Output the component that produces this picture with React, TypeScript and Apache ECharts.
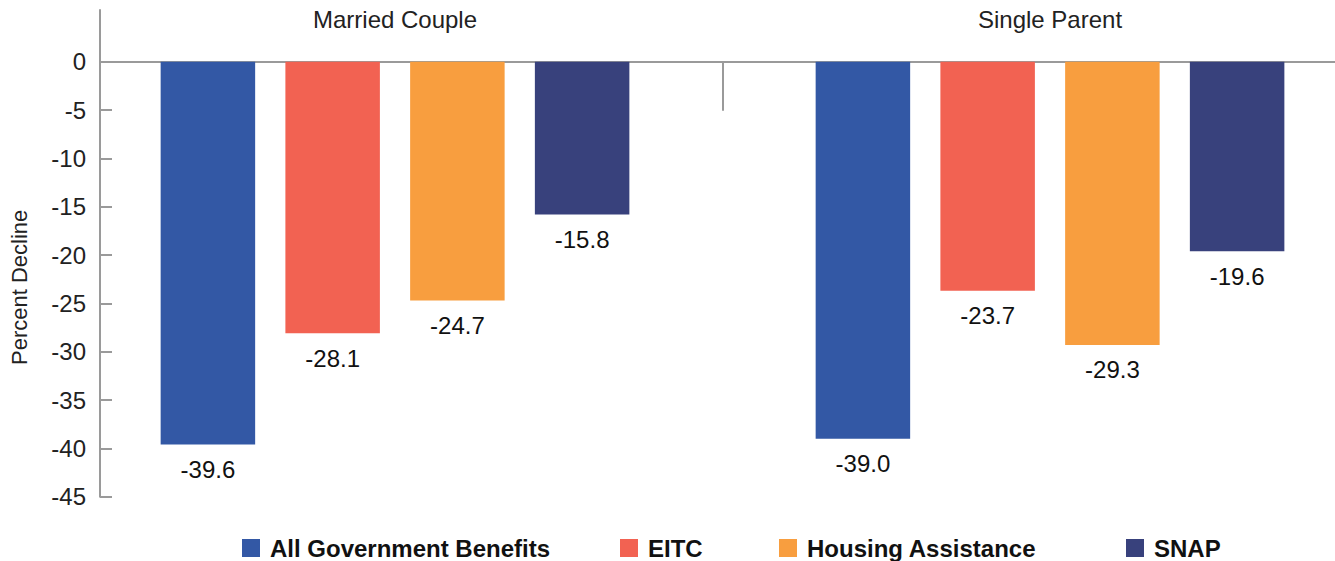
import React, { useEffect, useRef } from 'react';
import * as echarts from 'echarts';

const categories = ['Married Couple', 'Single Parent'];
const seriesNames = ['All Government Benefits', 'EITC', 'Housing Assistance', 'SNAP'];
const allGovernmentBenefits = [-39.6, -39.0];
const eitc = [-28.1, -23.7];
const housingAssistance = [-24.7, -29.3];
const snap = [-15.8, -19.6];
const yTickValues = [-45, -40, -35, -30, -25, -20, -15, -10, -5];
const yLabelValues = [-45, -40, -35, -30, -25, -20, -15, -10, -5, 0];
const yMin = -45;
const yMax = 5.35;
const yName = 'Percent Decline';

// x axis in "category index" units: groups centred on 0 and 1, divider at 0.5
const categoryIndexes = categories.map((_, i) => i);
const dividerValues = [0.5];
const xMin = -0.4504;
const xMax = 1.4351;

const seriesData = [allGovernmentBenefits, eitc, housingAssistance, snap];
const colors = ['#3358A5', '#F26252', '#F89E3F', '#38417C'];
const legendLefts = [242, 620, 779, 1126];

const FONT = "'Liberation Sans', Arial, Helvetica, sans-serif";
const AXIS_COLOR = '#9a9a9a';

export default function App() {
  const ref = useRef<HTMLDivElement>(null);

  useEffect(() => {
    if (!ref.current) return;
    const chart = echarts.init(ref.current, null, { renderer: 'svg' });
    const option: any = {
      animation: false,
      backgroundColor: '#ffffff',
      textStyle: { fontFamily: FONT },
      grid: { left: 100, right: 0, top: 10, bottom: 64.3, outerBoundsMode: 'none', containLabel: false },
      xAxis: {
        type: 'value',
        min: xMin,
        max: xMax,
        position: 'top',
        axisLine: { show: true, onZero: true, lineStyle: { color: AXIS_COLOR, width: 2 } },
        axisTick: {
          show: true,
          inside: true,
          length: 49,
          customValues: dividerValues,
          lineStyle: { color: AXIS_COLOR, width: 2 },
        },
        axisLabel: {
          show: true,
          margin: -21,
          fontSize: 24,
          color: '#222222',
          fontFamily: FONT,
          customValues: categoryIndexes,
          formatter: (v: number) => categories[Math.round(v)] ?? '',
        },
        splitLine: { show: false },
      },
      yAxis: {
        type: 'value',
        min: yMin,
        max: yMax,
        interval: 5,
        name: yName,
        nameLocation: 'middle',
        nameGap: 70,
        nameTextStyle: { fontSize: 22, color: '#222222', fontFamily: FONT, padding: [0, 68, 0, 0] },
        axisLine: { show: true, onZero: false, lineStyle: { color: AXIS_COLOR, width: 2 } },
        axisTick: { show: true, inside: true, length: 12, customValues: yTickValues, lineStyle: { color: AXIS_COLOR, width: 2 } },
        axisLabel: { show: true, margin: 14, fontSize: 24, color: '#222222', fontFamily: FONT, customValues: yLabelValues },
        splitLine: { show: false },
      },
      legend: seriesNames.map((name, i) => ({
        data: [name],
        left: legendLefts[i],
        top: 536,
        orient: 'horizontal',
        icon: 'rect',
        itemWidth: 18,
        itemHeight: 18,
        selectedMode: false,
        padding: 0,
        textStyle: { fontSize: 24, fontWeight: 'bold', color: '#111111', fontFamily: FONT, padding: [0, 0, 0, 5] },
      })),
      series: seriesNames.map((name, i) => ({
        name,
        type: 'bar',
        data: seriesData[i].map((v, j) => [categoryIndexes[j], v]),
        barWidth: 94.5,
        barGap: '32%',
        itemStyle: { color: colors[i] },
        label: {
          show: true,
          position: 'bottom',
          distance: 13,
          fontSize: 24,
          color: '#111111',
          fontFamily: FONT,
          formatter: (p: any) => Number(p.value[1]).toFixed(1),
        },
      })),
    };
    chart.setOption(option);
    return () => chart.dispose();
  }, []);

  return (
    <div
      ref={ref}
      style={{ position: 'absolute', left: 0, top: 0, width: 1335, height: 561, background: '#ffffff' }}
    />
  );
}
